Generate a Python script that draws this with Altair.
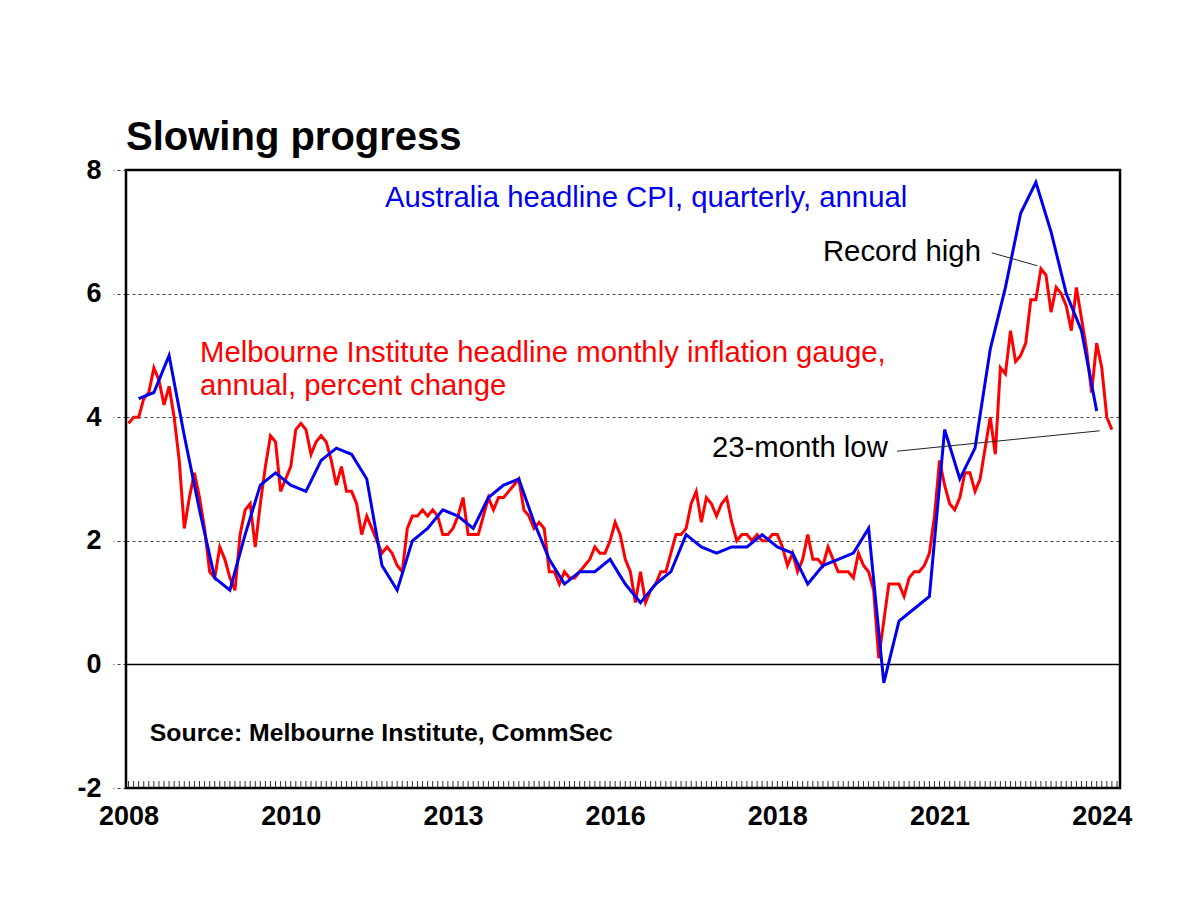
import altair as alt
import pandas as pd

# ---------------- data ----------------
# Melbourne Institute monthly inflation gauge, annual % (Jan 2008 .. Mar 2024)
red_vals = [
    3.9, 4.0, 4.0, 4.3, 4.4, 4.8, 4.6, 4.2, 4.5, 4.0, 3.3, 2.2,   # 2008
    2.7, 3.1, 2.7, 2.2, 1.5, 1.4, 1.9, 1.7, 1.4, 1.2, 2.1, 2.5,   # 2009
    2.6, 1.9, 2.6, 3.2, 3.7, 3.6, 2.8, 3.0, 3.2, 3.8, 3.9, 3.8,   # 2010
    3.4, 3.6, 3.7, 3.6, 3.3, 2.9, 3.2, 2.8, 2.8, 2.6, 2.1, 2.4,   # 2011
    2.2, 2.0, 1.8, 1.9, 1.8, 1.6, 1.5, 2.2, 2.4, 2.4, 2.5, 2.4,   # 2012
    2.5, 2.4, 2.1, 2.1, 2.2, 2.4, 2.7, 2.1, 2.1, 2.1, 2.4, 2.7,   # 2013
    2.5, 2.7, 2.7, 2.8, 2.9, 3.0, 2.5, 2.4, 2.2, 2.3, 2.2, 1.5,   # 2014
    1.5, 1.3, 1.5, 1.4, 1.4, 1.5, 1.6, 1.7, 1.9, 1.8, 1.8, 2.0,   # 2015
    2.3, 2.1, 1.7, 1.5, 1.0, 1.5, 1.0, 1.2, 1.3, 1.5, 1.5, 1.8,   # 2016
    2.1, 2.1, 2.2, 2.6, 2.8, 2.3, 2.7, 2.6, 2.4, 2.6, 2.7, 2.3,   # 2017
    2.0, 2.1, 2.1, 2.0, 2.1, 2.0, 2.0, 2.1, 2.1, 1.9, 1.6, 1.8,   # 2018
    1.5, 1.7, 2.1, 1.7, 1.7, 1.6, 1.9, 1.7, 1.5, 1.5, 1.5, 1.4,   # 2019
    1.8, 1.6, 1.5, 1.2, 0.1, 0.7, 1.3, 1.3, 1.3, 1.1, 1.4, 1.5,   # 2020
    1.5, 1.6, 1.8, 2.4, 3.3, 2.9, 2.6, 2.5, 2.7, 3.1, 3.1, 2.8,   # 2021
    3.0, 3.5, 4.0, 3.4, 4.8, 4.7, 5.4, 4.9, 5.0, 5.2, 5.9, 5.9,   # 2022
    6.4, 6.3, 5.7, 6.1, 6.0, 5.8, 5.4, 6.1, 5.6, 5.1, 4.4, 5.2,   # 2023
    4.8, 4.0, 3.8,                                                # 2024
]

# Australia headline CPI, annual % (quarters Mar 2008 .. Dec 2023)
blue_vals = [
    4.3, 4.4, 5.0, 3.7,
    2.5, 1.4, 1.2, 2.1,
    2.9, 3.1, 2.9, 2.8,
    3.3, 3.5, 3.4, 3.0,
    1.6, 1.2, 2.0, 2.2,
    2.5, 2.4, 2.2, 2.7,
    2.9, 3.0, 2.3, 1.7,
    1.3, 1.5, 1.5, 1.7,
    1.3, 1.0, 1.3, 1.5,
    2.1, 1.9, 1.8, 1.9,
    1.9, 2.1, 1.9, 1.8,
    1.3, 1.6, 1.7, 1.8,
    2.2, -0.3, 0.7, 0.9,
    1.1, 3.8, 3.0, 3.5,
    5.1, 6.1, 7.3, 7.8,
    7.0, 6.0, 5.4, 4.1,
]

month_labels = pd.date_range("2008-01-01", periods=len(red_vals), freq="MS").strftime("%Y-%m").tolist()
quarter_labels = pd.date_range("2008-03-01", periods=len(blue_vals), freq="3MS").strftime("%Y-%m").tolist()

tick_labels = ["2008", "2010", "2013", "2016", "2018", "2021", "2024"]
tick_months = ["2008-01", "2010-09", "2013-05", "2016-01", "2018-09", "2021-05", "2024-01"]

y_ticks = [-2, 0, 2, 4, 6, 8]

# ---------------- tables ----------------
pos = {m: i for i, m in enumerate(pd.date_range("2008-01-01", "2024-12-01", freq="MS").strftime("%Y-%m"))}

red_df = pd.DataFrame({"m": [pos[m] for m in month_labels], "v": red_vals})
blue_df = pd.DataFrame({"m": [pos[m] for m in quarter_labels], "v": blue_vals})
tick_pos = [pos[m] for m in tick_months]
minor_df = pd.DataFrame({"m": list(range(0, 196))})

FONT = "Liberation Sans"
X_DOMAIN = [-0.5, 195.6]
W, H = 994, 618

x_scale = alt.Scale(domain=X_DOMAIN, nice=False, zero=False)
y_scale = alt.Scale(domain=[-2, 8], nice=False, zero=False)

label_expr = "[" + ",".join(f"'{t}'" for t in tick_labels) + "][indexof([" + ",".join(str(p) for p in tick_pos) + "], datum.value)]"

x_axis = alt.Axis(values=tick_pos, labelExpr=label_expr, title=None, grid=False, ticks=False,
                  domain=False, labelFontSize=27, labelFontWeight="bold", labelFont=FONT,
                  labelColor="black", labelPadding=15, labelFlush=False, labelOverlap=False)
y_axis = alt.Axis(values=y_ticks, labelExpr="toString(datum.value)", title=None, grid=True,
                  gridDash=[3, 3], gridColor="#444", gridWidth=1, ticks=True, tickSize=13,
                  tickDash=[3, 3], tickColor="#444", domain=False, labelFontSize=27,
                  labelFontWeight="bold", labelFont=FONT, labelColor="black", labelPadding=12)

base_red = alt.Chart(red_df).mark_line(color="#FF0000", strokeWidth=3, clip=True).encode(
    x=alt.X("m:Q", scale=x_scale, axis=x_axis),
    y=alt.Y("v:Q", scale=y_scale, axis=y_axis),
)
blue_line = alt.Chart(blue_df).mark_line(color="#0000EE", strokeWidth=3, clip=True).encode(
    x=alt.X("m:Q", scale=x_scale),
    y=alt.Y("v:Q", scale=y_scale),
)

zero_rule = alt.Chart(pd.DataFrame({"v": [0]})).mark_rule(color="black", strokeWidth=1.5).encode(
    y=alt.Y("v:Q", scale=y_scale)
)

minor_ticks = alt.Chart(minor_df).mark_rule(color="#333", strokeWidth=1).encode(
    x=alt.X("m:Q", scale=x_scale),
    y=alt.value(H),
    y2=alt.value(H - 7),
)

frame = alt.Chart(pd.DataFrame({"k": [0]})).mark_rect(
    fill="transparent", stroke="black", strokeWidth=2.5
).encode(x=alt.value(0), x2=alt.value(W), y=alt.value(0), y2=alt.value(H))

# annotations (data coordinates)
ann_df = pd.DataFrame({
    "m": [50.6, 14.1, 14.1, 137.0, 115.1],
    "v": [7.54, 5.04, 4.50, 6.68, 3.50],
    "t": ["Australia headline CPI, quarterly, annual",
          "Melbourne Institute headline monthly inflation gauge,",
          "annual, percent change",
          "Record high",
          "23-month low"],
    "c": ["#0000EE", "#FF0000", "#FF0000", "black", "black"],
})
ann = alt.Chart(ann_df).mark_text(align="left", baseline="middle", fontSize=29.3, font=FONT).encode(
    x=alt.X("m:Q", scale=x_scale),
    y=alt.Y("v:Q", scale=y_scale),
    text="t:N",
    color=alt.Color("c:N", scale=None),
)

src_df = pd.DataFrame({"m": [4.2], "v": [-1.12], "t": ["Source: Melbourne Institute, CommSec"]})
src = alt.Chart(src_df).mark_text(align="left", baseline="middle", fontSize=24.8, fontWeight="bold",
                                  font=FONT, color="black").encode(
    x=alt.X("m:Q", scale=x_scale),
    y=alt.Y("v:Q", scale=y_scale),
    text="t:N",
)

lead_df = pd.DataFrame({
    "m": [170.3, 151.6], "v": [6.66, 3.45],
    "m2": [179.3, 191.6], "v2": [6.45, 3.78],
})
leaders = alt.Chart(lead_df).mark_rule(color="#222", strokeWidth=1).encode(
    x=alt.X("m:Q", scale=x_scale), y=alt.Y("v:Q", scale=y_scale),
    x2="m2:Q", y2="v2:Q",
)

chart = alt.layer(base_red, zero_rule, minor_ticks, blue_line, leaders, ann, src, frame).properties(
    width=W, height=H,
    title=alt.TitleParams("Slowing progress", anchor="start", frame="group", fontSize=40,
                          fontWeight="bold", font=FONT, color="black", offset=-2),
    autosize=alt.AutoSizeParams(type="none"),
    padding={"left": 118, "top": 162, "right": 60, "bottom": 100},
).configure_view(stroke="black", strokeWidth=2.5).configure(background="white")

chart.save("out.html", embed_options={"renderer": "svg", "actions": False})
